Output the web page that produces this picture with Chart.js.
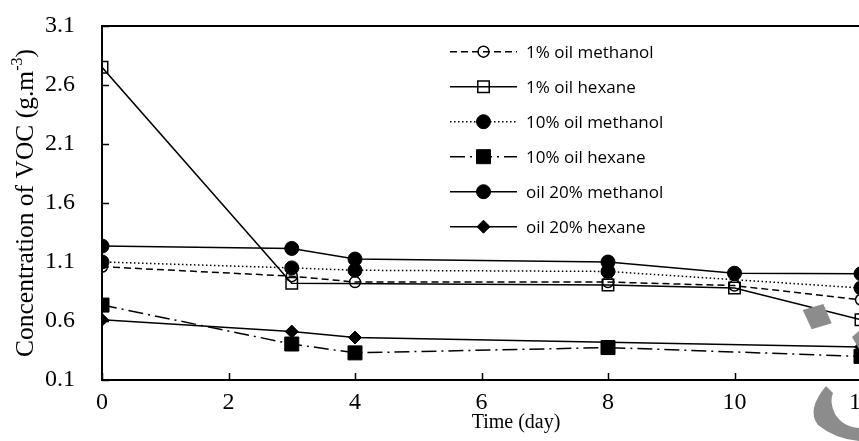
<!DOCTYPE html>
<html>
<head>
<meta charset="utf-8">
<script src="https://cdn.jsdelivr.net/npm/chart.js@4/dist/chart.umd.min.js"></script>
<style>
  html, body { margin: 0; padding: 0; background: #fff; overflow: hidden; }
  #wrap { width: 881px; height: 441px; }
</style>
</head>
<body>
<div id="wrap"><canvas id="c" width="881" height="441"></canvas></div>
<script>
// Sampling days and VOC concentration (g.m-3) per treatment; null = not measured
const days = [0, 3, 4, 8, 10, 12];
const oil1Methanol  = [1.06, 0.98, 0.93, 0.93, 0.90, 0.78];
const oil1Hexane    = [2.75, 0.92, null, 0.905, 0.88, 0.61];
const oil10Methanol = [1.10, 1.05, 1.03, 1.02, null, 0.88];
const oil10Hexane   = [0.735, 0.405, 0.33, 0.375, null, 0.30];
const oil20Methanol = [1.235, 1.215, 1.125, 1.10, 1.005, 1.00];
const oil20Hexane   = [0.61, 0.51, 0.46, null, null, 0.38];
const seriesNames = ['1% oil methanol', '1% oil hexane', '10% oil methanol',
                     '10% oil hexane', 'oil 20% methanol', 'oil 20% hexane'];
const yTicks = [0.1, 0.6, 1.1, 1.6, 2.1, 2.6, 3.1];
const xTicks = [0, 2, 4, 6, 8, 10, 12];

const SERIF = '"Liberation Serif", "Times New Roman", serif';
const SANS = '"Open Sans", "Noto Sans", sans-serif';

function toPoints(values) {
  const pts = [];
  values.forEach((v, i) => { if (v !== null) pts.push({ x: days[i], y: v }); });
  return pts;
}

const styles = [
  { dash: [7, 4],         point: 'circle',  radius: 5.5, filled: false },
  { dash: [],             point: 'rect',    radius: 8.1, filled: false },
  { dash: [1.5, 2.5],     point: 'circle',  radius: 7,   filled: true },
  { dash: [15, 5, 2, 5],  point: 'rect',    radius: 9.9, filled: true },
  { dash: [],             point: 'circle',  radius: 7,   filled: true },
  { dash: [],             point: 'rectRot', radius: 6.5, filled: true }
];
const seriesValues = [oil1Methanol, oil1Hexane, oil10Methanol, oil10Hexane, oil20Methanol, oil20Hexane];

const datasets = seriesValues.map((vals, i) => {
  const s = styles[i];
  return {
    label: seriesNames[i],
    data: toPoints(vals),
    borderColor: '#000',
    borderWidth: 1.5,
    borderDash: s.dash,
    fill: false,
    tension: 0,
    pointStyle: s.point,
    pointRadius: s.radius,
    pointHoverRadius: s.radius,
    pointBackgroundColor: s.filled ? '#000' : 'rgba(0,0,0,0)',
    pointBorderColor: '#000',
    pointBorderWidth: s.filled ? 1 : 1.5,
    order: seriesValues.length - i   // later series drawn on top
  };
});

function drawMarker(ctx, style, x, y) {
  const r = style.radius;
  ctx.save();
  ctx.setLineDash([]);
  ctx.lineWidth = style.filled ? 1 : 1.5;
  ctx.strokeStyle = '#000';
  ctx.fillStyle = '#000';
  ctx.beginPath();
  if (style.point === 'circle') {
    ctx.arc(x, y, r, 0, Math.PI * 2);
  } else if (style.point === 'rect') {
    const h = r * Math.SQRT1_2;
    ctx.rect(x - h, y - h, 2 * h, 2 * h);
  } else {
    ctx.moveTo(x - r, y); ctx.lineTo(x, y - r); ctx.lineTo(x + r, y); ctx.lineTo(x, y + r);
    ctx.closePath();
  }
  if (style.filled) ctx.fill();
  ctx.stroke();
  ctx.restore();
}

const decorations = {
  id: 'decorations',
  afterDatasetsDraw(chart) {
    const ctx = chart.ctx;
    const a = chart.chartArea;
    const xs = chart.scales.x, ys = chart.scales.y;
    ctx.save();
    // plot frame
    ctx.strokeStyle = '#000';
    ctx.lineWidth = 2;
    ctx.setLineDash([]);
    ctx.strokeRect(a.left, a.top, a.right - a.left, a.bottom - a.top);
    // inward tick marks
    ctx.lineWidth = 1.5;
    ctx.beginPath();
    yTicks.forEach(v => {
      const y = Math.round(ys.getPixelForValue(v)) + 0.5;
      ctx.moveTo(a.left, y); ctx.lineTo(a.left + 7, y);
    });
    xTicks.forEach(v => {
      const x = Math.round(xs.getPixelForValue(v)) + 0.5;
      ctx.moveTo(x, a.bottom); ctx.lineTo(x, a.bottom - 7);
    });
    ctx.stroke();

    // axis titles
    ctx.fillStyle = '#000';
    ctx.font = '20px ' + SERIF;
    ctx.textAlign = 'center';
    ctx.textBaseline = 'middle';
    ctx.fillText('Time (day)', 516, 423);

    ctx.save();
    ctx.translate(26, 203);
    ctx.rotate(-Math.PI / 2);
    const main = 'Concentration of VOC (g.m';
    const sup = '-3';
    const close = ')';
    ctx.font = '25.5px ' + SERIF;
    const wMain = ctx.measureText(main).width;
    const wClose = ctx.measureText(close).width;
    ctx.font = '16px ' + SERIF;
    const wSup = ctx.measureText(sup).width;
    const total = wMain + wSup + wClose;
    let x0 = -total / 2;
    ctx.textAlign = 'left';
    ctx.font = '25.5px ' + SERIF;
    ctx.fillText(main, x0, 0);
    ctx.font = '16px ' + SERIF;
    ctx.fillText(sup, x0 + wMain, -8);
    ctx.font = '25.5px ' + SERIF;
    ctx.fillText(close, x0 + wMain + wSup, 0);
    ctx.restore();

    // legend
    ctx.font = '17px ' + SANS;
    ctx.textAlign = 'left';
    ctx.textBaseline = 'middle';
    seriesNames.forEach((name, i) => {
      const y = 51.7 + 35 * i;
      const s = styles[i];
      ctx.save();
      ctx.lineWidth = 1.5;
      ctx.setLineDash(s.dash);
      ctx.beginPath();
      ctx.moveTo(450, y); ctx.lineTo(517, y);
      ctx.stroke();
      ctx.restore();
      drawMarker(ctx, s, 483.5, y);
      ctx.fillStyle = '#000';
      ctx.fillText(name, 526, y + 1);
    });

    // grey logo fragments in the lower-right corner
    ctx.fillStyle = '#8c8c8c';
    ctx.beginPath();
    ctx.moveTo(802.7, 310); ctx.lineTo(823.3, 304); ctx.lineTo(831.7, 323.3); ctx.lineTo(811.7, 329.3);
    ctx.closePath(); ctx.fill();
    ctx.beginPath();
    ctx.moveTo(852, 337); ctx.lineTo(859, 331); ctx.lineTo(859, 349);
    ctx.closePath(); ctx.fill();
    ctx.beginPath();
    ctx.moveTo(826, 386);
    ctx.quadraticCurveTo(806, 410, 818, 425);
    ctx.quadraticCurveTo(835, 439, 859, 441);
    ctx.lineTo(859, 428);
    ctx.quadraticCurveTo(843, 427, 835, 414);
    ctx.quadraticCurveTo(829, 401, 833, 393);
    ctx.closePath(); ctx.fill();
    ctx.restore();
  }
};

new Chart(document.getElementById('c'), {
  type: 'line',
  data: { datasets },
  options: {
    responsive: false,
    animation: false,
    devicePixelRatio: 1,
    layout: { padding: { left: 0, top: 26, right: 20, bottom: 0 } },
    plugins: { legend: { display: false }, tooltip: { enabled: false } },
    scales: {
      x: {
        type: 'linear',
        min: 0, max: 12,
        afterBuildTicks: s => { s.ticks = xTicks.map(v => ({ value: v })); },
        afterFit: s => { s.height = 61; s.paddingLeft = 0; s.paddingRight = 0; },
        grid: { display: false, drawTicks: false },
        border: { display: false },
        ticks: {
          color: '#000', padding: 8, maxRotation: 0, autoSkip: false,
          font: { family: SERIF, size: 24 },
          callback: v => String(v)
        }
      },
      y: {
        type: 'linear',
        min: 0.1, max: 3.1,
        afterBuildTicks: s => { s.ticks = yTicks.map(v => ({ value: v })); },
        afterFit: s => { s.width = 102; s.paddingTop = 0; s.paddingBottom = 0; },
        grid: { display: false, drawTicks: false },
        border: { display: false },
        ticks: {
          color: '#000', padding: 27, autoSkip: false,
          font: { family: SERIF, size: 24 },
          callback: v => Number(v).toFixed(1)
        }
      }
    }
  },
  plugins: [decorations]
});
</script>
</body>
</html>
